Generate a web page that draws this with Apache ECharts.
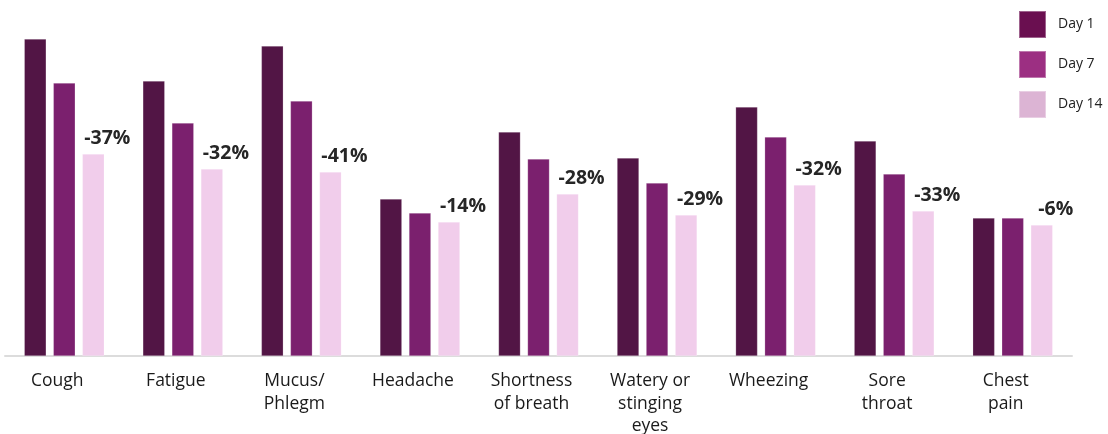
<!DOCTYPE html>
<html>
<head>
<meta charset="utf-8">
<script src="https://cdn.jsdelivr.net/npm/echarts@6/dist/echarts.min.js"></script>
<style>
html,body{margin:0;padding:0;background:#fff;}
#chart{width:1108px;height:434px;}
</style>
</head>
<body>
<div id="chart"></div>
<script>
const categories = ['Cough', 'Fatigue', 'Mucus/\nPhlegm', 'Headache', 'Shortness\nof breath', 'Watery or\nstinging\neyes', 'Wheezing', 'Sore\nthroat', 'Chest\npain'];
const day1 = [3.17, 2.75, 3.10, 1.57, 2.24, 1.98, 2.49, 2.15, 1.38];
const day7 = [2.73, 2.33, 2.55, 1.43, 1.97, 1.73, 2.19, 1.82, 1.38];
const day14 = [2.02, 1.87, 1.84, 1.34, 1.62, 1.41, 1.71, 1.45, 1.31];
const changeLabels = ['-37%', '-32%', '-41%', '-14%', '-28%', '-29%', '-32%', '-33%', '-6%'];
const seriesNames = ['Day 1', 'Day 7', 'Day 14'];

const barColors = ['#521545', '#7b206e', '#f1cdeb'];
const legendColors = ['#6a0f50', '#9c2f82', '#dcb4d4'];

const chart = echarts.init(document.getElementById('chart'));
const mk = (name, data, i, withLabel) => ({
  name: name,
  type: 'bar',
  data: data,
  barWidth: 22,
  barGap: '32%',
  itemStyle: { color: barColors[i], borderColor: 'rgba(255,255,255,0.35)', borderWidth: 0.6 },
  label: withLabel ? {
    show: true,
    position: 'top',
    distance: 5,
    offset: [14, -1],
    fontFamily: 'Open Sans',
    fontWeight: 'bold',
    fontSize: 19.5,
    color: '#262626',
    formatter: p => changeLabels[p.dataIndex]
  } : { show: false },
  emphasis: { disabled: true },
  animation: false
});

chart.setOption({
  animation: false,
  grid: { left: 5, width: 1067, top: 0, bottom: 78, containLabel: false, outerBoundsMode: 'none' },
  legend: {
    orient: 'vertical',
    left: 1018,
    top: 10,
    padding: 0,
    itemWidth: 27,
    itemHeight: 27,
    itemGap: 11,
    icon: 'rect',
    textStyle: { fontFamily: 'Open Sans', fontSize: 14, color: '#222', padding: [0, 0, 0, 7] },
    data: seriesNames.map((n, i) => ({ name: n, itemStyle: { color: legendColors[i] } }))
  },
  xAxis: {
    type: 'category',
    data: categories,
    axisLine: { show: true, lineStyle: { color: '#dcdcdc', width: 2 } },
    axisTick: { show: false },
    axisLabel: {
      interval: 0,
      margin: 14,
      fontFamily: 'Open Sans',
      fontSize: 17.5,
      lineHeight: 22.5,
      color: '#1a1a1a',
      padding: [0, 14, 0, 0],
      verticalAlign: 'top'
    }
  },
  yAxis: {
    type: 'value',
    min: 0,
    max: 3.56,
    show: false,
    splitLine: { show: false }
  },
  series: [
    mk(seriesNames[0], day1, 0, false),
    mk(seriesNames[1], day7, 1, false),
    mk(seriesNames[2], day14, 2, true)
  ]
});
</script>
</body>
</html>
